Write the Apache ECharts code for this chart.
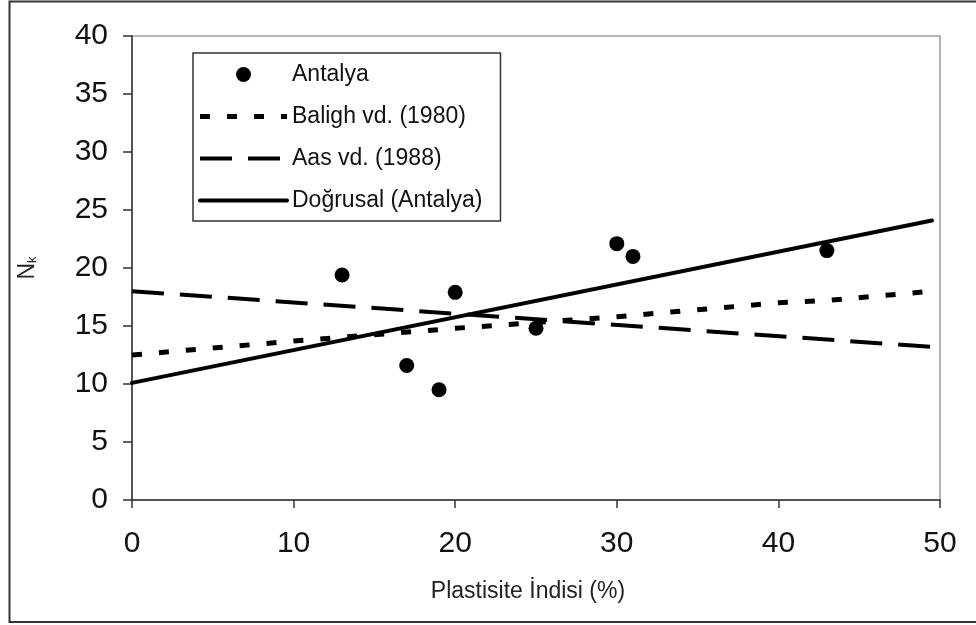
<!DOCTYPE html>
<html>
<head>
<meta charset="utf-8">
<script src="https://cdn.jsdelivr.net/npm/echarts@6/dist/echarts.min.js"></script>
<style>
html,body{margin:0;padding:0;background:#fff;}
#chart{width:976px;height:625px;}
</style>
</head>
<body>
<div id="chart"></div>
<script>
// Data
const antalyaPI = [13, 17, 19, 20, 25, 30, 31, 43];
const antalyaNk = [19.4, 11.6, 9.5, 17.9, 14.8, 22.1, 21.0, 21.5];
const balighPI = [0, 10, 20, 30, 40, 43, 49.5];
const balighNk = [12.5, 13.7, 14.8, 15.8, 17.0, 17.2, 18.0];
const aasPI = [0, 49.5];
const aasNk = [18.0, 13.2];
const linPI = [0, 49.5];
const linNk = [10.1, 24.1];
const seriesNames = ['Antalya', 'Baligh vd. (1980)', 'Aas vd. (1988)', 'Doğrusal (Antalya)'];
const xTicks = {min: 0, max: 50, interval: 10};
const yTicks = {min: 0, max: 40, interval: 5};

const zip = (a, b) => a.map((v, i) => [v, b[i]]);
const font = 'Liberation Sans, Arial, sans-serif';

// line styles (shared by series and their legend icons)
const balighStyle = {color: '#000', width: 5, type: [10, 17], cap: 'butt'};
const aasStyle = {color: '#000', width: 4, type: [32, 16], cap: 'butt'};
const linStyle = {color: '#000', width: 4, type: 'solid', cap: 'round'};

// legend geometry
const LEG = {left: 193, top: 53, padT: 10, padR: 18, padB: 9, padL: 7, iconW: 87, rowH: 23, gap: 19, fs: 23};
function legendIcon(rowIdx, st) {
  const y = LEG.top + LEG.padT + rowIdx * (LEG.rowH + LEG.gap) + LEG.rowH / 2;
  const x0 = LEG.left + LEG.padL;
  return {
    type: 'line', z: 200, silent: true,
    shape: {x1: x0, y1: y, x2: x0 + LEG.iconW, y2: y},
    style: {stroke: st.color, lineWidth: st.width, lineDash: st.type === 'solid' ? null : st.type, lineCap: st.cap}
  };
}

const chart = echarts.init(document.getElementById('chart'), null, {renderer: 'canvas'});
chart.setOption({
  animation: false,
  backgroundColor: '#fff',
  textStyle: {fontFamily: font},
  graphic: [
    {
      type: 'rect',
      shape: {x: 9.5, y: 1.5, width: 1000, height: 620.5},
      style: {fill: 'none', stroke: '#333', lineWidth: 2},
      silent: true, z: -1
    },
    legendIcon(1, balighStyle),
    legendIcon(2, aasStyle),
    legendIcon(3, linStyle)
  ],
  grid: {
    left: 132, right: 36, top: 36, bottom: 125,
    show: true, borderColor: '#9a9a9a', borderWidth: 1.5, backgroundColor: 'transparent'
  },
  legend: {
    orient: 'vertical',
    left: LEG.left, top: LEG.top,
    padding: [LEG.padT, LEG.padR, LEG.padB, LEG.padL],
    borderColor: '#333', borderWidth: 1.5,
    backgroundColor: '#fff',
    itemWidth: LEG.iconW, itemHeight: 15, itemGap: LEG.gap,
    textStyle: {fontSize: LEG.fs, lineHeight: LEG.rowH, color: '#111', fontFamily: font},
    data: [
      {name: seriesNames[0], icon: 'circle', itemStyle: {color: '#000', opacity: 1}},
      {name: seriesNames[1], icon: 'rect', itemStyle: {color: 'rgba(0,0,0,0)', borderWidth: 0}},
      {name: seriesNames[2], icon: 'rect', itemStyle: {color: 'rgba(0,0,0,0)', borderWidth: 0}},
      {name: seriesNames[3], icon: 'rect', itemStyle: {color: 'rgba(0,0,0,0)', borderWidth: 0}}
    ]
  },
  xAxis: {
    type: 'value', min: xTicks.min, max: xTicks.max, interval: xTicks.interval,
    name: 'Plastisite İndisi (%)', nameLocation: 'middle', nameGap: 80,
    nameTextStyle: {fontSize: 23, color: '#222', fontFamily: font, padding: [0, 16, 0, 0]},
    axisLine: {show: true, onZero: false, lineStyle: {color: '#333', width: 1.5}},
    axisTick: {show: true, length: 8, lineStyle: {color: '#333', width: 1.5}},
    axisLabel: {fontSize: 30, color: '#111', margin: 29, fontFamily: font},
    splitLine: {show: false}
  },
  yAxis: {
    type: 'value', min: yTicks.min, max: yTicks.max, interval: yTicks.interval,
    name: '{n|N}{k|k}', nameLocation: 'middle', nameGap: 93, nameRotate: 90,
    nameTextStyle: {
      color: '#222', fontFamily: font, padding: [0, 0, 0, 0],
      rich: {n: {fontSize: 23, color: '#222', fontFamily: font}, k: {fontSize: 13, color: '#222', verticalAlign: 'bottom', fontFamily: font}}
    },
    axisLine: {show: true, onZero: false, lineStyle: {color: '#333', width: 1.5}},
    axisTick: {show: true, length: 9, lineStyle: {color: '#333', width: 1.5}},
    axisLabel: {fontSize: 30, color: '#111', margin: 24, fontFamily: font},
    splitLine: {show: false}
  },
  series: [
    {
      name: seriesNames[0], type: 'scatter', data: zip(antalyaPI, antalyaNk),
      symbol: 'circle', symbolSize: 15, itemStyle: {color: '#000', opacity: 1}, z: 5
    },
    {
      name: seriesNames[1], type: 'line', data: zip(balighPI, balighNk),
      symbol: 'none', itemStyle: {color: '#000'}, lineStyle: balighStyle
    },
    {
      name: seriesNames[2], type: 'line', data: zip(aasPI, aasNk),
      symbol: 'none', itemStyle: {color: '#000'}, lineStyle: aasStyle
    },
    {
      name: seriesNames[3], type: 'line', data: zip(linPI, linNk),
      symbol: 'none', itemStyle: {color: '#000'}, lineStyle: linStyle
    }
  ]
});
</script>
</body>
</html>
